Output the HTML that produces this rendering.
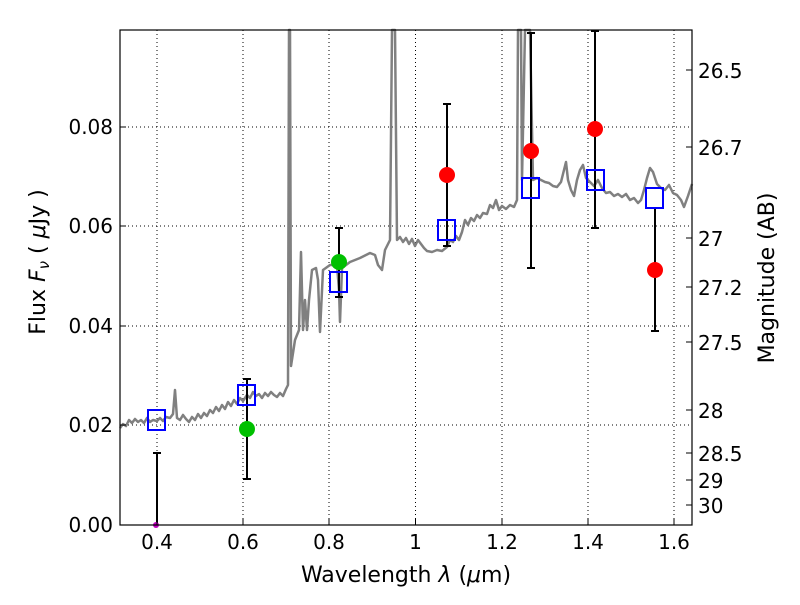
<!DOCTYPE html>
<html><head><style>body{margin:0;background:#fff}svg text{font-family:"DejaVu Sans","Liberation Sans",sans-serif}</style></head><body>
<svg width="800" height="600" viewBox="0 0 800 600" xmlns="http://www.w3.org/2000/svg">
<g stroke="#000" stroke-dasharray="1,3" stroke-width="1">
<line x1="157" y1="30" x2="157" y2="525"/><line x1="243" y1="30" x2="243" y2="525"/><line x1="329" y1="30" x2="329" y2="525"/><line x1="415.5" y1="30" x2="415.5" y2="525"/><line x1="502" y1="30" x2="502" y2="525"/><line x1="588" y1="30" x2="588" y2="525"/><line x1="674" y1="30" x2="674" y2="525"/>
<line x1="120" y1="425" x2="692" y2="425"/><line x1="120" y1="326" x2="692" y2="326"/><line x1="120" y1="226" x2="692" y2="226"/><line x1="120" y1="127" x2="692" y2="127"/>
</g>
<polyline fill="none" stroke="#808080" stroke-width="2.5" stroke-linejoin="round" points="120,428 123,424 126,426 129,420 132,423 135,419 138,422 141,420 144,423 147,418 150,422 153,420 157,421 160,418 163,421 166,417 170,418 173,414 175,390 177,418 180,420 183,415 186,419 189,422 192,417 195,420 198,414 201,418 204,413 207,416 210,410 213,413 216,407 219,411 222,405 225,409 228,402 231,406 234,400 237,404 240,398 243,401 247,395 250,398 253,392 256,396 259,394 262,398 265,393 268,396 271,392 274,395 277,397 280,393 283,396 286,389 288,385 289,30 290,30 291,366 295,340 299,330 301,252 303,330 305,300 307,330 309,300 312,270 316,268 318,280 320,332 323,270 330,265 337,265 339,290 340,322 342,268 350,262 360,258 370,253 375,255 378,265 382,270 385,250 390,240 392,30 395,30 397,240 400,237 403,242 406,238 409,244 412,239 415,246 418,240 421,244 424,248 427,251 432,252 437,250 442,251 447,247 450,240 453,242 456,236 459,240 462,232 465,220 468,225 471,218 474,221 477,215 480,218 483,213 487,214 490,205 493,208 496,200 499,210 502,206 506,209 510,205 514,207 517,200 518,30 521,30 522,180 525,30 530,30 533,180 537,178 541,180 545,182 549,183 553,186 557,187 561,182 564,170 566,162 568,180 571,190 574,196 577,180 580,170 583,165 586,178 590,182 594,186 598,180 602,188 606,193 610,192 614,196 618,194 622,197 626,194 630,200 634,198 638,203 641,200 644,190 647,178 650,168 653,172 657,184 661,188 665,190 669,185 673,193 677,195 681,200 684,207 688,196 692,184"/>
<g stroke="#000" stroke-width="2">
<line x1="157" y1="453" x2="157" y2="525"/><line x1="153" y1="453" x2="161" y2="453"/>
<line x1="247" y1="379" x2="247" y2="479"/><line x1="243" y1="379" x2="251" y2="379"/><line x1="243" y1="479" x2="251" y2="479"/>
<line x1="339" y1="228" x2="339" y2="297"/><line x1="335" y1="228" x2="343" y2="228"/><line x1="335" y1="297" x2="343" y2="297"/>
<line x1="447" y1="104" x2="447" y2="246"/><line x1="443" y1="104" x2="451" y2="104"/><line x1="443" y1="246" x2="451" y2="246"/>
<line x1="531" y1="33" x2="531" y2="268"/><line x1="527" y1="33" x2="535" y2="33"/><line x1="527" y1="268" x2="535" y2="268"/>
<line x1="595" y1="31" x2="595" y2="228"/><line x1="591" y1="31" x2="599" y2="31"/><line x1="591" y1="228" x2="599" y2="228"/>
<line x1="655" y1="208" x2="655" y2="331"/><line x1="651" y1="208" x2="659" y2="208"/><line x1="651" y1="331" x2="659" y2="331"/>
</g>
<g fill="none" stroke="#0000ff" stroke-width="2">
<rect x="148" y="410" width="17" height="20"/><rect x="238" y="385" width="17" height="20"/><rect x="330" y="272" width="17" height="20"/><rect x="438" y="220" width="17" height="20"/><rect x="522" y="178" width="17" height="20"/><rect x="587" y="170" width="17" height="20"/><rect x="646" y="188" width="17" height="20"/>
</g>
<g fill="#00c000"><circle cx="247" cy="429" r="8"/><circle cx="339" cy="262" r="8"/></g>
<g fill="#ff0000"><circle cx="447" cy="175" r="8"/><circle cx="531" cy="151" r="8"/><circle cx="595" cy="129" r="8"/><circle cx="655" cy="270" r="8"/></g>
<circle cx="156" cy="525" r="3" fill="#c000c0"/>
<rect x="120" y="30" width="572" height="495" fill="none" stroke="#000" stroke-width="1.2"/>
<g stroke="#000">
<line x1="157" y1="525" x2="157" y2="519"/><line x1="243" y1="525" x2="243" y2="519"/><line x1="329" y1="525" x2="329" y2="519"/><line x1="415.5" y1="525" x2="415.5" y2="519"/><line x1="502" y1="525" x2="502" y2="519"/><line x1="588" y1="525" x2="588" y2="519"/><line x1="674" y1="525" x2="674" y2="519"/>
<line x1="120" y1="425" x2="126" y2="425"/><line x1="120" y1="326" x2="126" y2="326"/><line x1="120" y1="226" x2="126" y2="226"/><line x1="120" y1="127" x2="126" y2="127"/>
<line x1="686" y1="70" x2="692" y2="70"/><line x1="686" y1="147" x2="692" y2="147"/><line x1="686" y1="238" x2="692" y2="238"/><line x1="686" y1="287" x2="692" y2="287"/><line x1="686" y1="342" x2="692" y2="342"/><line x1="686" y1="410" x2="692" y2="410"/><line x1="686" y1="453" x2="692" y2="453"/><line x1="686" y1="480" x2="692" y2="480"/><line x1="686" y1="505" x2="692" y2="505"/>
</g>
<g font-size="20" text-anchor="end">
<text x="113" y="532">0.00</text><text x="113" y="432">0.02</text><text x="113" y="333">0.04</text><text x="113" y="233">0.06</text><text x="113" y="134">0.08</text>
</g>
<g font-size="20" text-anchor="middle">
<text x="157" y="549">0.4</text><text x="243" y="549">0.6</text><text x="329" y="549">0.8</text><text x="415.5" y="549">1</text><text x="502" y="549">1.2</text><text x="588" y="549">1.4</text><text x="674" y="549">1.6</text>
</g>
<g font-size="20">
<text x="698" y="78">26.5</text><text x="698" y="155">26.7</text><text x="698" y="246">27</text><text x="698" y="295">27.2</text><text x="698" y="350">27.5</text><text x="698" y="418">28</text><text x="698" y="461">28.5</text><text x="698" y="488">29</text><text x="698" y="513">30</text>
</g>
<text x="406" y="582" font-size="22" text-anchor="middle">Wavelength  <tspan font-style="italic">λ</tspan> (<tspan font-style="italic">μ</tspan>m)</text>
<text transform="translate(45,262) rotate(-90)" font-size="22" text-anchor="middle">Flux  <tspan font-style="italic">F<tspan font-size="15" dy="4">ν</tspan></tspan><tspan dy="-4">  (  </tspan><tspan font-style="italic">μ</tspan>Jy )</text>
<text transform="translate(774,278) rotate(-90)" font-size="22" text-anchor="middle">Magnitude (AB)</text>
</svg>
</body></html>
